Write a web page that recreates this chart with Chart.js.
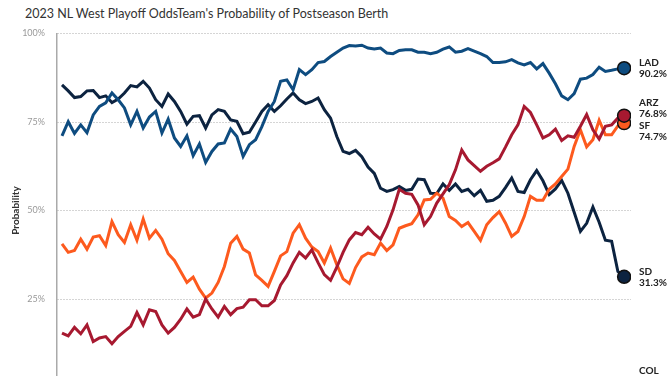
<!DOCTYPE html>
<html>
<head>
<meta charset="utf-8">
<script src="https://cdn.jsdelivr.net/npm/chart.js@4.4.0/dist/chart.umd.min.js"></script>
<style>
  html, body { margin: 0; padding: 0; overflow: hidden; background: #fff; }
  #wrap { position: relative; width: 668px; height: 376px; overflow: hidden; }
  #title { position: absolute; left: 25px; top: 6px; font: 12.5px Lato, sans-serif; color: #333; white-space: nowrap; }
  canvas { position: absolute; left: 0; top: 0; }
</style>
</head>
<body>
<div id="wrap">
  <div id="title">2023 NL West Playoff OddsTeam's Probability of Postseason Berth</div>
  <canvas id="chart" width="668" height="405"></canvas>
</div>
<script>
// チーム名と最終値ラベル
const teams = ['LAD', 'ARZ', 'SF', 'SD', 'COL'];
const teamColors = ['#0e4c80', '#a71930', '#fd5a1e', '#0c2340', '#33006f'];
const yTicks = [0, 25, 50, 75, 100];

// day index (x axis, not labelled in the picture)
const days = Array.from({ length: 91 }, (_, i) => i);

const lad = [71.1, 75.1, 71.8, 74.2, 72.0, 77.0, 79.4, 80.4, 83.2, 81.3,
  79.0, 74.2, 78.0, 73.3, 76.4, 78.0, 71.9, 75.8, 70.5, 68.1,
  71.1, 65.5, 68.8, 63.6, 66.7, 68.8, 69.1, 73.0, 70.9, 65.3,
  68.6, 70.0, 73.7, 78.0, 80.8, 86.5, 86.9, 84.1, 89.8, 88.4,
  89.8, 91.8, 92.1, 93.5, 94.7, 95.9, 96.6, 96.5, 96.7, 95.9,
  95.6, 95.9, 94.5, 94.3, 95.2, 95.4, 95.4, 94.7, 94.7, 94.3,
  94.7, 95.6, 96.2, 94.7, 95.0, 95.7, 95.0, 94.3, 93.5, 91.8,
  91.8, 92.0, 92.6, 91.7, 91.1, 91.8, 90.0, 91.5, 88.8, 85.8,
  82.4, 81.3, 83.0, 87.1, 87.4, 88.4, 90.5, 89.3, 89.6, 90.0, 90.2];

const sd = [85.5, 83.8, 81.9, 82.2, 83.8, 83.9, 81.9, 82.4, 80.5, 81.5,
  83.2, 85.3, 84.9, 86.5, 84.6, 81.3, 79.4, 82.9, 80.8, 78.0,
  74.4, 76.6, 76.8, 73.3, 77.0, 78.5, 78.0, 75.6, 75.2, 71.7,
  72.1, 75.0, 78.0, 79.9, 78.0, 79.6, 81.5, 83.2, 81.3, 80.2,
  80.8, 81.8, 78.5, 76.1, 70.9, 66.7, 66.1, 67.0, 65.2, 62.3,
  60.5, 56.3, 55.4, 55.9, 56.8, 55.7, 56.0, 58.9, 58.7, 54.9,
  54.8, 57.5, 55.7, 57.5, 55.4, 56.0, 54.2, 55.7, 52.6, 52.9,
  54.0, 56.5, 59.2, 55.4, 55.1, 58.7, 61.3, 58.4, 54.5, 56.1,
  58.5, 54.9, 49.5, 44.1, 46.4, 51.0, 46.7, 41.6, 41.3, 32.8, 31.3];

const arz = [15.4, 14.6, 17.0, 15.2, 17.7, 13.0, 14.0, 14.4, 12.4, 14.4,
  15.9, 17.3, 21.2, 17.7, 22.0, 21.5, 17.7, 15.4, 17.0, 19.3,
  22.2, 19.9, 20.6, 25.0, 22.2, 19.9, 22.9, 20.6, 22.3, 22.7,
  24.8, 24.8, 23.1, 23.1, 24.6, 29.0, 31.6, 35.2, 38.2, 36.6,
  38.9, 35.3, 31.9, 30.3, 34.0, 38.2, 41.7, 43.8, 43.2, 45.3,
  43.4, 41.9, 45.5, 50.2, 56.0, 54.9, 54.6, 51.6, 46.0, 48.3,
  52.1, 54.7, 57.3, 61.5, 67.1, 64.3, 62.7, 61.1, 62.5, 63.5,
  64.6, 67.9, 71.4, 74.2, 79.4, 77.7, 74.2, 70.5, 71.4, 73.0,
  69.8, 71.1, 70.7, 73.8, 77.1, 72.8, 70.2, 73.8, 74.2, 76.1, 76.8];

const sf = [40.6, 38.2, 38.7, 41.9, 39.1, 42.5, 42.9, 40.1, 46.9, 43.2,
  41.0, 46.0, 41.6, 47.6, 42.2, 44.4, 41.9, 37.8, 35.9, 32.8,
  29.7, 31.2, 27.8, 25.3, 26.7, 29.7, 34.2, 40.8, 42.7, 39.1,
  38.0, 31.8, 30.3, 28.6, 32.8, 37.2, 38.4, 43.6, 46.0, 42.2,
  39.7, 38.4, 35.2, 39.4, 34.7, 30.7, 29.4, 33.9, 36.9, 38.0,
  37.5, 40.8, 38.7, 40.3, 45.0, 45.7, 46.3, 48.8, 53.0, 53.2,
  54.9, 53.5, 48.3, 47.2, 45.5, 46.6, 44.1, 41.6, 46.0, 48.0,
  49.7, 46.5, 42.7, 44.1, 48.3, 54.0, 52.9, 52.9, 56.0, 57.5,
  59.6, 61.7, 68.1, 72.8, 68.0, 70.0, 75.5, 71.4, 71.4, 73.9, 74.7];

const col = days.map(() => 0);

const seriesValues = [lad, arz, sf, sd, col];

// 右端のチーム名ラベル
const endLabels = {
  id: 'endLabels',
  afterDatasetsDraw(chart) {
    const { ctx, chartArea, scales } = chart;
    const half = 11.5;
    const items = chart.data.datasets.map((ds, i) => {
      const last = ds.data[ds.data.length - 1];
      return {
        name: teams[i],
        value: last.y.toFixed(1) + '%',
        y: Math.min(scales.y.getPixelForValue(last.y), chartArea.bottom - half)
      };
    }).sort((a, b) => a.y - b.y);

    for (let k = 1; k < items.length; k++) {
      const a = items[k - 1], b = items[k];
      if (b.y - a.y < half * 2) {
        const mid = (a.y + b.y) / 2;
        a.y = mid - half;
        b.y = mid + half;
      }
    }

    ctx.save();
    ctx.font = 'bold 10px Lato, sans-serif';
    ctx.fillStyle = '#222';
    ctx.textAlign = 'left';
    ctx.textBaseline = 'middle';
    const x = chartArea.right + 8;
    items.forEach(it => {
      ctx.fillText(it.name, x, it.y - 5);
      ctx.fillText(it.value, x, it.y + 6);
    });
    ctx.restore();
  }
};

const lastIndex = days.length - 1;

new Chart(document.getElementById('chart'), {
  type: 'line',
  data: {
    datasets: seriesValues.map((vals, i) => ({
      label: teams[i],
      data: vals.map((v, j) => ({ x: days[j], y: v })),
      borderColor: teamColors[i],
      backgroundColor: teamColors[i],
      borderWidth: 3,
      tension: 0,
      pointRadius: c => (c.dataIndex === lastIndex ? 6.5 : 0),
      pointBackgroundColor: teamColors[i],
      pointBorderColor: '#111',
      pointBorderWidth: 1.5
    }))
  },
  options: {
    responsive: false,
    animation: false,
    devicePixelRatio: 1,
    // tick padding (12) also pads the scale top/bottom, so the canvas is taller than the window
    layout: { autoPadding: false, padding: { left: 0, right: 37, top: 33.5, bottom: 0 } },
    plugins: {
      legend: { display: false },
      title: { display: false },
      tooltip: { enabled: false }
    },
    scales: {
      x: {
        type: 'linear',
        min: -0.8,
        max: lastIndex + 1.1,
        display: false
      },
      y: {
        min: yTicks[0],
        max: yTicks[yTicks.length - 1],
        afterBuildTicks: s => { s.ticks = yTicks.map(v => ({ value: v })); },
        afterFit: s => { s.width = 57; },
        ticks: {
          callback: v => v + '%',
          color: '#999',
          font: { family: 'Lato', size: 9 },
          padding: 12
        },
        grid: { color: '#aaa', drawTicks: false, lineWidth: 1 },
        border: { display: true, color: '#aaa', width: 1.5, dash: [1, 2] },
        title: {
          display: true,
          text: 'Probability',
          color: '#333',
          font: { family: 'Lato', size: 10, weight: 'bold' },
          padding: { top: 10, bottom: 0 }
        }
      }
    }
  },
  plugins: [endLabels]
});
</script>
</body>
</html>
